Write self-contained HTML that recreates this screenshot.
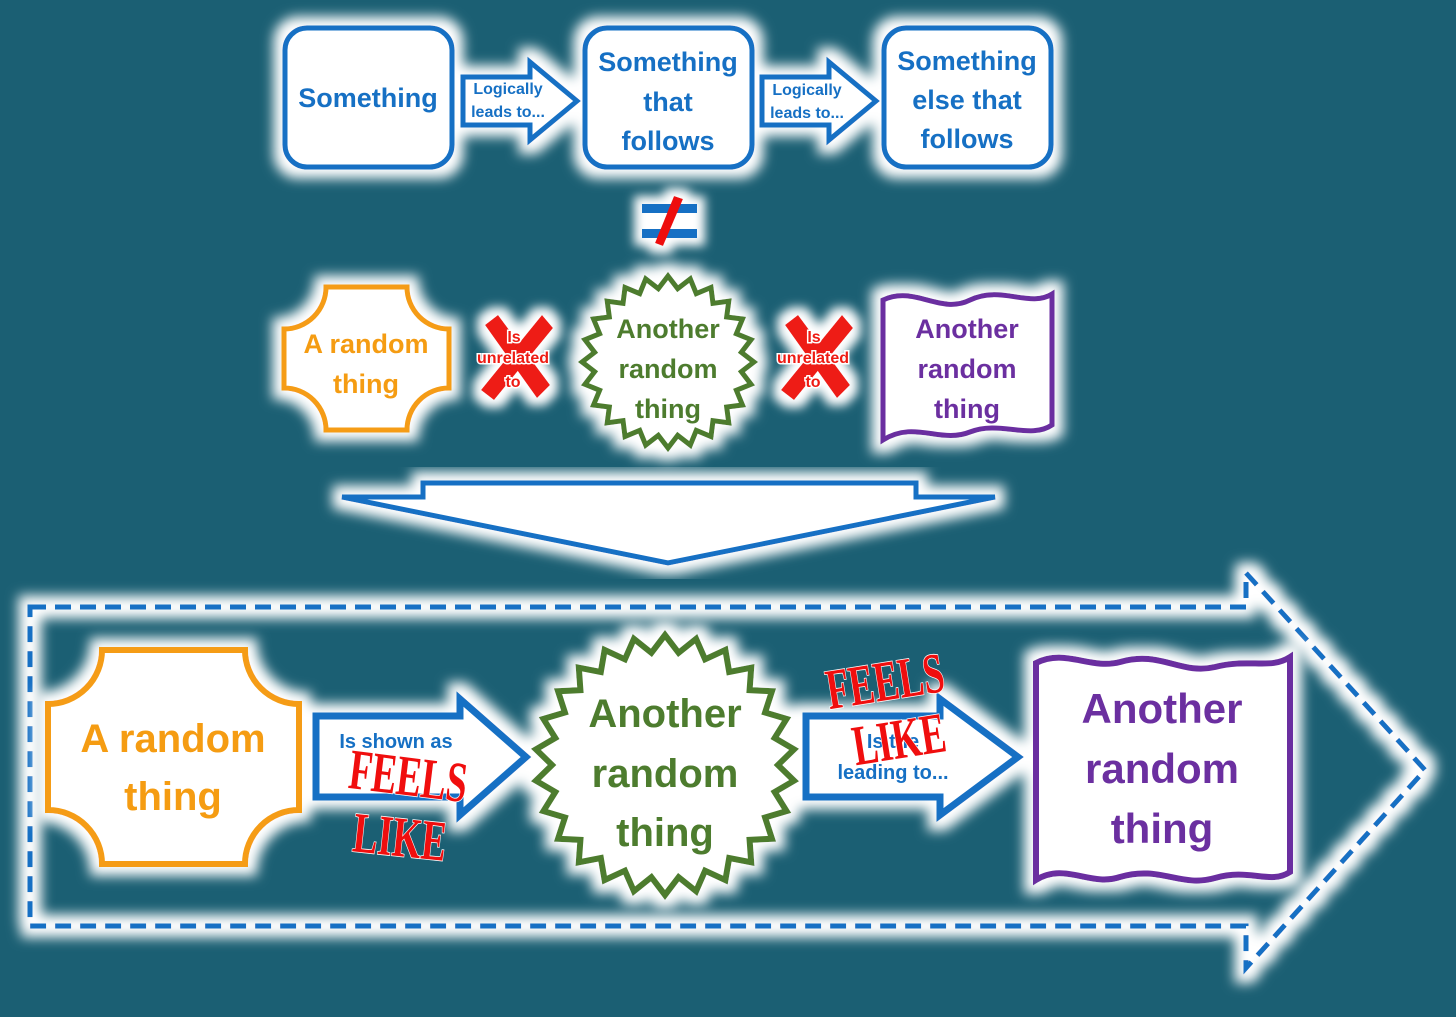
<!DOCTYPE html>
<html><head><meta charset="utf-8"><style>
html,body{margin:0;padding:0;background:#1b5f73;}
svg{display:block}
text{font-family:"Liberation Sans",sans-serif;font-weight:bold;text-anchor:middle}
text.fl{font-family:"Liberation Serif",serif;font-weight:bold;fill:#f00e0e;stroke:#fff;stroke-width:1.2;paint-order:stroke}
</style></head><body>
<svg id="s" width="1456" height="1017" viewBox="0 0 1456 1017" xmlns="http://www.w3.org/2000/svg">
<defs>
<filter id="g" x="-20%" y="-20%" width="140%" height="140%">
<feMorphology in="SourceAlpha" operator="dilate" radius="9" result="d"/>
<feGaussianBlur in="d" stdDeviation="6" result="b"/>
<feFlood flood-color="#ffffff"/>
<feComposite in2="b" operator="in" result="w"/>
<feMerge><feMergeNode in="w"/><feMergeNode in="SourceGraphic"/></feMerge>
</filter>
<filter id="g2" x="-60%" y="-60%" width="220%" height="220%">
<feMorphology in="SourceAlpha" operator="dilate" radius="8" result="d"/>
<feGaussianBlur in="d" stdDeviation="5" result="b"/>
<feFlood flood-color="#ffffff"/>
<feComposite in2="b" operator="in" result="w"/>
<feMerge><feMergeNode in="w"/><feMergeNode in="SourceGraphic"/></feMerge>
</filter>
</defs>
<rect width="1456" height="1017" fill="#1b5f73"/>

<g filter="url(#g)">
<rect x="285" y="28" width="167" height="139" rx="22" fill="#fff" stroke="#1670c4" stroke-width="5"/>
<rect x="585" y="28" width="167" height="139" rx="22" fill="#fff" stroke="#1670c4" stroke-width="5"/>
<rect x="884" y="28" width="167" height="139" rx="22" fill="#fff" stroke="#1670c4" stroke-width="5"/>
<path d="M463,77 H530 V62 L577,101 L530,140 V125 H463 Z" fill="#fff" stroke="#1670c4" stroke-width="5"/>
<path d="M762,77 H829 V62 L876,101 L829,140 V125 H762 Z" fill="#fff" stroke="#1670c4" stroke-width="5"/>
</g>
<g fill="#1670c4" font-size="27">
<text x="368" y="107">Something</text>
<text x="668" y="71">Something</text><text x="668" y="111">that</text><text x="668" y="150">follows</text>
<text x="967" y="70">Something</text><text x="967" y="109">else that</text><text x="967" y="148">follows</text>
</g>
<g fill="#1670c4" font-size="16">
<text x="508" y="94">Logically</text><text x="508" y="117">leads to...</text>
<text x="807" y="95">Logically</text><text x="807" y="118">leads to...</text>
</g>
<g filter="url(#g2)">
<rect x="642" y="204" width="55" height="9" fill="#1670c4"/>
<rect x="642" y="229" width="55" height="9" fill="#1670c4"/>
<path d="M674,196 L683,199 L663,246 L655,243 Z" fill="#ee1111"/>
</g>

<g filter="url(#g)">
<path d="M326,287 H407 A42 42 0 0 0 449,329 V388 A42 42 0 0 0 407,430 H326 A42 42 0 0 0 284,388 V329 A42 42 0 0 0 326,287 Z" fill="#fff" stroke="#f59c12" stroke-width="5"/>
<polygon id="st1" fill="#fff" stroke="#4d7c2e" stroke-width="5"/>
<path d="M883,300 C915,285 940,315 970,300 C1000,285 1030,308 1052,294 V425 C1030,440 1000,420 970,432 C940,444 915,420 883,440 Z" fill="#fff" stroke="#6b2fa0" stroke-width="5"/>
</g>
<g filter="url(#g2)">
<path d="M485,325 L498,315 L550,385 L537,398 Z" fill="#ee1a12"/>
<path d="M542,315 L553,328 L494,400 L481,390 Z" fill="#ee1a12"/>
<path d="M785,325 L798,315 L850,385 L837,398 Z" fill="#ee1a12"/>
<path d="M842,315 L853,328 L794,400 L781,390 Z" fill="#ee1a12"/>
</g>
<g fill="#f59c12" font-size="27"><text x="366" y="353">A random</text><text x="366" y="393">thing</text></g>
<g fill="#4d7c2e" font-size="27"><text x="668" y="338">Another</text><text x="668" y="378">random</text><text x="668" y="418">thing</text></g>
<g fill="#6b2fa0" font-size="27"><text x="967" y="338">Another</text><text x="967" y="378">random</text><text x="967" y="418">thing</text></g>
<g fill="#ee1a12" font-size="16" stroke="#fff" stroke-width="3" paint-order="stroke">
<text x="514" y="342">Is</text><text x="513" y="363">unrelated</text><text x="513" y="387">to</text>
<text x="814" y="342">Is</text><text x="813" y="363">unrelated</text><text x="813" y="387">to</text>
</g>

<g filter="url(#g)">
<path d="M342,497 H423 V483 H916 V497 H995 L668,563 Z" fill="#fff" stroke="#1670c4" stroke-width="5"/>
</g>

<g filter="url(#g)">
<path d="M30,607 H1246 V573 L1425,770 L1246,968 V926 H30 Z" fill="none" stroke="#1670c4" stroke-width="5" stroke-dasharray="16,9"/>
</g>

<g filter="url(#g)">
<path d="M102,650 H245 A54 54 0 0 0 299,704 V810 A54 54 0 0 0 245,864 H102 A54 54 0 0 0 48,810 V704 A54 54 0 0 0 102,650 Z" fill="#fff" stroke="#f59c12" stroke-width="6"/>
<path d="M316,716 H460 V699 L526,757 L460,815 V797 H316 Z" fill="#fff" stroke="#1670c4" stroke-width="7"/>
<polygon id="st2" fill="#fff" stroke="#4d7c2e" stroke-width="6"/>
<path d="M806,716 H940 V699 L1018,757 L940,815 V797 H806 Z" fill="#fff" stroke="#1670c4" stroke-width="7"/>
<path d="M1036,663 C1065,648 1090,670 1120,662 C1160,650 1180,675 1215,667 C1250,658 1270,670 1290,657 V872 C1270,885 1250,868 1215,878 C1180,888 1160,865 1120,877 C1090,887 1065,862 1036,880 Z" fill="#fff" stroke="#6b2fa0" stroke-width="6"/>
</g>
<g fill="#f59c12" font-size="40"><text x="173" y="752">A random</text><text x="173" y="810">thing</text></g>
<g fill="#4d7c2e" font-size="40"><text x="665" y="727">Another</text><text x="665" y="787">random</text><text x="665" y="846">thing</text></g>
<g fill="#6b2fa0" font-size="42"><text x="1162" y="723">Another</text><text x="1162" y="783">random</text><text x="1162" y="843">thing</text></g>
<g fill="#1670c4" font-size="20"><text x="396" y="748">Is shown as</text><text x="893" y="748">Is the</text><text x="893" y="779">leading to...</text></g>
<text class="fl" font-size="44" transform="translate(406,795) rotate(7) scale(0.85,1.3)">FEELS</text>
<text class="fl" font-size="44" transform="translate(398,856) rotate(6) scale(0.85,1.3)">LIKE</text>
<text class="fl" font-size="44" transform="translate(888,700) rotate(-9) scale(0.85,1.3)">FEELS</text>
<text class="fl" font-size="44" transform="translate(902,758) rotate(-9) scale(0.85,1.3)">LIKE</text>
</svg>
<script>
function star(id,cx,cy,ro,ri,n){var p=[];for(var i=0;i<2*n;i++){var a=Math.PI*i/n-Math.PI/2;var r=i%2?ri:ro;p.push((cx+r*Math.cos(a)).toFixed(1)+","+(cy+r*Math.sin(a)).toFixed(1));}document.getElementById(id).setAttribute("points",p.join(" "));}
star("st1",668,362,86,74,24);
star("st2",665,765,130,113,26);
</script>
</body></html>
